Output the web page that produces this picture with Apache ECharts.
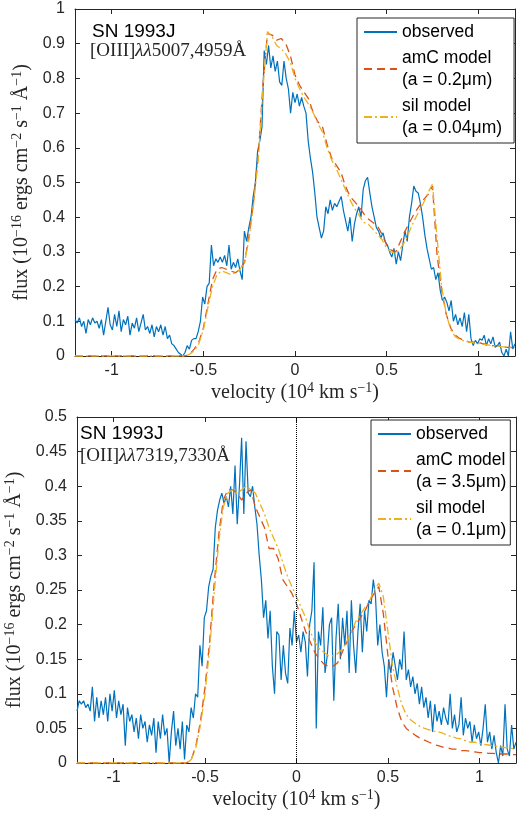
<!DOCTYPE html>
<html>
<head>
<meta charset="utf-8">
<script src="https://cdn.jsdelivr.net/npm/echarts@6/dist/echarts.min.js"></script>
<style>html,body{margin:0;padding:0;background:#fff}#c{width:521px;height:813px}</style>
</head>
<body>
<div id="c"></div>
<script>
// ---------------- data ----------------
const velStartObs = -1.2, velStepObs = 0.012;      // observed spectra velocity grid (10^4 km/s)
const velStartModel = -1.2, velStepModel = 0.025;  // model velocity grid
const xTickValues = [-1, -0.5, 0, 0.5, 1];

const oiiiObserved = [
 0.105,0.095,0.11,0.085,0.10,0.065,0.105,0.09,0.11,0.095,
 0.10,0.08,0.105,0.06,0.10,0.14,0.09,0.075,0.12,0.085,
 0.13,0.07,0.105,0.09,0.115,0.06,0.095,0.08,0.11,0.07,
 0.095,0.12,0.075,0.085,0.065,0.09,0.055,0.085,0.07,0.09,
 0.06,0.085,0.05,0.06,0.035,0.03,0.02,0.01,0.005,0.0,
 0.01,0.03,0.02,0.045,0.05,0.05,0.07,0.10,0.17,0.15,
 0.20,0.21,0.32,0.26,0.28,0.27,0.285,0.27,0.29,0.26,
 0.32,0.25,0.27,0.255,0.28,0.245,0.22,0.36,0.33,0.37,
 0.40,0.46,0.50,0.59,0.62,0.66,0.88,0.84,0.895,0.83,
 0.865,0.82,0.85,0.79,0.78,0.85,0.80,0.77,0.70,0.76,
 0.73,0.755,0.72,0.745,0.72,0.70,0.62,0.57,0.53,0.47,
 0.40,0.37,0.34,0.36,0.43,0.41,0.45,0.42,0.44,0.43,
 0.445,0.46,0.42,0.39,0.36,0.40,0.33,0.38,0.41,0.43,
 0.40,0.48,0.505,0.515,0.47,0.43,0.40,0.37,0.36,0.34,
 0.355,0.33,0.32,0.30,0.285,0.31,0.265,0.30,0.275,0.32,
 0.36,0.33,0.40,0.44,0.49,0.475,0.47,0.44,0.40,0.35,
 0.31,0.28,0.25,0.255,0.22,0.24,0.19,0.16,0.17,0.155,
 0.13,0.16,0.10,0.12,0.09,0.11,0.085,0.125,0.07,0.12,
 0.05,0.03,0.045,0.035,0.05,0.045,0.06,0.03,0.05,0.035,
 0.055,0.025,0.03,0.04,0.01,0.0,0.02,0.0,0.07,0.02,
 0.035
];

const oiiiAmC = [
 0,0,0,0,0,0,0,0,0,0,0,0,0,0,0,0,0,0,0,0,0,0,0,0,0,
 0.005,0.02,0.04,0.08,0.15,0.22,0.25,0.255,0.25,0.245,
 0.24,0.25,0.27,0.35,0.45,0.58,0.78,0.93,0.925,0.91,
 0.915,0.90,0.865,0.81,0.78,0.76,0.74,0.70,0.675,0.66,
 0.61,0.57,0.55,0.53,0.49,0.46,0.445,0.43,0.41,0.395,
 0.385,0.375,0.35,0.32,0.305,0.30,0.33,0.36,0.385,0.41,
 0.43,0.45,0.465,0.49,0.29,0.19,0.12,0.08,0.06,0.05,
 0.045,0.04,0.04,0.04,0.035,0.035,0.03,0.03,0.028,0.025,0.025,0.022
];

const oiiiSil = [
 0,0,0,0,0,0,0,0,0,0,0,0,0,0,0,0,0,0,0,0,0,0,0,0,0,
 0.005,0.015,0.035,0.075,0.14,0.20,0.235,0.245,0.24,0.235,
 0.24,0.25,0.27,0.34,0.44,0.57,0.77,0.935,0.92,0.895,
 0.885,0.87,0.845,0.80,0.77,0.745,0.725,0.70,0.67,0.645,
 0.60,0.565,0.54,0.51,0.48,0.45,0.425,0.405,0.385,0.38,
 0.365,0.35,0.335,0.31,0.30,0.295,0.31,0.33,0.36,0.39,
 0.415,0.44,0.47,0.495,0.34,0.20,0.12,0.075,0.055,0.048,
 0.043,0.04,0.038,0.036,0.034,0.032,0.03,0.029,0.027,0.026,0.025,0.024
];

const oiiObserved = [
 0.075,0.09,0.085,0.09,0.08,0.085,0.075,0.11,0.06,0.095,
 0.065,0.09,0.07,0.095,0.06,0.10,0.075,0.105,0.065,0.09,
 0.07,0.085,0.025,0.08,0.06,0.07,0.045,0.065,0.035,0.07,
 0.05,0.06,0.03,0.055,0.04,0.065,0.015,0.06,0.035,0.07,
 0.04,0.05,0.0,0.045,0.075,0.025,0.05,0.02,0.06,0.005,
 0.055,0.045,0.08,0.065,0.10,0.095,0.17,0.14,0.21,0.22,
 0.255,0.27,0.28,0.34,0.365,0.38,0.39,0.375,0.385,0.37,
 0.40,0.36,0.43,0.345,0.40,0.47,0.36,0.465,0.39,0.385,
 0.40,0.37,0.345,0.30,0.265,0.21,0.235,0.18,0.22,0.14,
 0.10,0.19,0.185,0.12,0.17,0.13,0.115,0.195,0.17,0.22,
 0.175,0.185,0.16,0.19,0.175,0.125,0.2,0.22,0.29,0.05,
 0.19,0.17,0.225,0.13,0.155,0.2,0.21,0.09,0.18,0.23,
 0.15,0.21,0.17,0.22,0.13,0.235,0.17,0.13,0.19,0.23,
 0.16,0.22,0.19,0.235,0.23,0.265,0.24,0.17,0.2,0.16,
 0.14,0.095,0.15,0.13,0.16,0.14,0.12,0.15,0.135,0.19,
 0.12,0.135,0.11,0.125,0.10,0.115,0.085,0.11,0.08,0.095,
 0.065,0.09,0.045,0.085,0.06,0.075,0.055,0.08,0.065,0.055,
 0.10,0.05,0.07,0.045,0.055,0.095,0.04,0.065,0.05,0.06,
 0.03,0.055,0.035,0.045,0.025,0.05,0.085,0.03,0.045,0.02,
 0.04,0.015,0.0,0.025,0.01,0.085,0.02,0.01,0.055,0.02,
 0.03
];

const oiiAmC = [
 0,0,0,0,0,0,0,0,0,0,0,0,0,0,0,0,0,0,0,0,0,0,0,0,0,
 0.005,0.025,0.06,0.11,0.175,0.26,0.33,0.38,0.395,0.395,
 0.39,0.38,0.39,0.395,0.37,0.355,0.34,0.31,0.31,0.295,
 0.265,0.255,0.245,0.23,0.21,0.19,0.175,0.16,0.15,0.143,
 0.14,0.14,0.145,0.16,0.175,0.19,0.2,0.21,0.22,0.235,
 0.245,0.255,0.215,0.155,0.11,0.08,0.06,0.05,0.045,0.04,
 0.036,0.033,0.03,0.027,0.025,0.023,0.022,0.02,0.02,0.018,
 0.018,0.017,0.016,0.015,0.015,0.014,0.014,0.013,0.013,0.013,0.012,0.012
];

const oiiSil = [
 0,0,0,0,0,0,0,0,0,0,0,0,0,0,0,0,0,0,0,0,0,0,0,0,0,
 0.005,0.022,0.055,0.10,0.165,0.245,0.32,0.37,0.39,0.395,
 0.39,0.395,0.40,0.395,0.39,0.375,0.36,0.34,0.325,0.31,
 0.29,0.27,0.255,0.24,0.225,0.21,0.19,0.175,0.165,0.16,
 0.155,0.155,0.158,0.165,0.175,0.19,0.205,0.215,0.225,0.235,
 0.25,0.26,0.24,0.19,0.14,0.11,0.085,0.07,0.062,0.057,
 0.053,0.05,0.048,0.046,0.045,0.043,0.04,0.038,0.036,0.035,
 0.032,0.03,0.03,0.028,0.027,0.026,0.025,0.024,0.023,0.022,0.021,0.02
];

const legendTopNames = ['observed', 'amC model\n(a = 0.2μm)', 'sil model\n(a = 0.04μm)'];
const legendBottomNames = ['observed', 'amC model\n(a = 3.5μm)', 'sil model\n(a = 0.1μm)'];

// ---------------- chart ----------------
const toPairs = (start, step, vals) => vals.map((y, i) => [Math.round((start + i * step) * 10000) / 10000, y]);

const C_OBS = '#0072BD', C_AMC = '#D95319', C_SIL = '#EDB120';
const axisColor = '#262626';
const SANS = 'Liberation Sans';
const SERIF = 'Liberation Serif';

const nameStyle = {
  fontFamily: SERIF, fontSize: 20, color: axisColor,
  rich: {
    r: { fontFamily: SERIF, fontSize: 20, color: axisColor, lineHeight: 24 },
    s: { fontFamily: SERIF, fontSize: 14, color: axisColor, verticalAlign: 'top', lineHeight: 14 }
  }
};
const xName = '{r|velocity (10}{s|4}{r| km s}{s|−1}{r|)}';
const yName = '{r|flux (10}{s|−16}{r| ergs cm}{s|−2}{r| s}{s|−1}{r| Å}{s|−1}{r|)}';

function makeX(gi, pos, showLabel) {
  return {
    type: 'value', gridIndex: gi, position: pos, min: -1.2, max: 1.2,
    axisLine: { show: true, onZero: false, lineStyle: { color: axisColor, width: 1 } },
    axisTick: { show: true, inside: true, length: 5, customValues: xTickValues, lineStyle: { color: axisColor, width: 1 } },
    axisLabel: { show: showLabel, customValues: xTickValues, margin: 7, fontSize: 16, fontFamily: SANS, color: axisColor },
    splitLine: { show: false },
    name: showLabel ? xName : '', nameLocation: 'middle', nameGap: 25, nameTextStyle: nameStyle
  };
}
function makeY(gi, pos, showLabel, max, interval) {
  return {
    type: 'value', gridIndex: gi, position: pos, min: 0, max: max, interval: interval,
    axisLine: { show: true, onZero: false, lineStyle: { color: axisColor, width: 1 } },
    axisTick: { show: true, inside: true, length: 5, lineStyle: { color: axisColor, width: 1 } },
    axisLabel: { show: showLabel, margin: 10, fontSize: 16, fontFamily: SANS, color: axisColor },
    splitLine: { show: false },
    name: showLabel ? yName : '', nameLocation: 'middle', nameGap: 36, nameRotate: 90, nameTextStyle: nameStyle
  };
}

function lineSeries(name, xi, yi, data, color, type, width) {
  return {
    type: 'line', name: name, xAxisIndex: xi, yAxisIndex: yi, data: data,
    symbol: 'none', showSymbol: false, clip: true, animation: false,
    lineStyle: { color: color, width: width, type: type },
    itemStyle: { color: color }
  };
}

const legendCommon = {
  orient: 'vertical', itemWidth: 33, itemHeight: 14, itemGap: 4,
  backgroundColor: '#fff', borderColor: axisColor, borderWidth: 1,
  selectedMode: false,
  itemStyle: { opacity: 0 },
  textStyle: { fontSize: 17.5, fontFamily: SANS, color: '#000', lineHeight: 22 }
};

const obsTop = lineSeries('observed', 0, 0, toPairs(velStartObs, velStepObs, oiiiObserved), C_OBS, 'solid', 1.2);
const obsBottom = lineSeries('observed', 2, 2, toPairs(velStartObs, velStepObs, oiiObserved), C_OBS, 'solid', 1.2);
obsBottom.markLine = {
  silent: true, symbol: ['none', 'none'], label: { show: false },
  lineStyle: { type: 'dotted', color: '#000', width: 1 },
  data: [{ xAxis: 0 }], animation: false
};

const option = {
  animation: false,
  backgroundColor: '#fff',
  grid: [
    { left: 75, top: 9, width: 440, height: 347, outerBoundsMode: 'none' },
    { left: 77, top: 417, width: 439, height: 346, outerBoundsMode: 'none' }
  ],
  xAxis: [makeX(0, 'bottom', true), makeX(0, 'top', false), makeX(1, 'bottom', true), makeX(1, 'top', false)],
  yAxis: [makeY(0, 'left', true, 1, 0.1), makeY(0, 'right', false, 1, 0.1), makeY(1, 'left', true, 0.5, 0.05), makeY(1, 'right', false, 0.5, 0.05)],
  legend: [
    Object.assign({}, legendCommon, { left: 357, top: 18, padding: [3, 12, 4, 6], data: legendTopNames }),
    Object.assign({}, legendCommon, { left: 371, top: 420, padding: [3, 4, 4, 6], data: legendBottomNames })
  ],
  series: [
    obsTop,
    lineSeries(legendTopNames[1], 0, 0, toPairs(velStartModel, velStepModel, oiiiAmC), C_AMC, [8, 5], 1.3),
    lineSeries(legendTopNames[2], 0, 0, toPairs(velStartModel, velStepModel, oiiiSil), C_SIL, [8, 3, 2, 3], 1.3),
    obsBottom,
    lineSeries(legendBottomNames[1], 2, 2, toPairs(velStartModel, velStepModel, oiiAmC), C_AMC, [8, 5], 1.3),
    lineSeries(legendBottomNames[2], 2, 2, toPairs(velStartModel, velStepModel, oiiSil), C_SIL, [8, 3, 2, 3], 1.3)
  ],
  graphic: [
    { type: 'text', x: 92, y: 31.5, style: { text: 'SN 1993J', fontFamily: SANS, fontSize: 19, fill: '#000', verticalAlign: 'middle' } },
    { type: 'text', x: 90, y: 51, style: {
        text: '{u|[OIII]}{i|λλ}{u|5007,4959Å}', verticalAlign: 'middle',
        rich: { u: { fontFamily: SERIF, fontSize: 19, fill: axisColor }, i: { fontFamily: SERIF, fontStyle: 'italic', fontSize: 19, fill: axisColor } }
    } },
    { type: 'text', x: 80, y: 434, style: { text: 'SN 1993J', fontFamily: SANS, fontSize: 19, fill: '#000', verticalAlign: 'middle' } },
    { type: 'text', x: 80, y: 456, style: {
        text: '{u|[OII]}{i|λλ}{u|7319,7330Å}', verticalAlign: 'middle',
        rich: { u: { fontFamily: SERIF, fontSize: 19, fill: axisColor }, i: { fontFamily: SERIF, fontStyle: 'italic', fontSize: 19, fill: axisColor } }
    } }
  ]
};

const chart = echarts.init(document.getElementById('c'));
chart.setOption(option);
</script>
</body>
</html>
